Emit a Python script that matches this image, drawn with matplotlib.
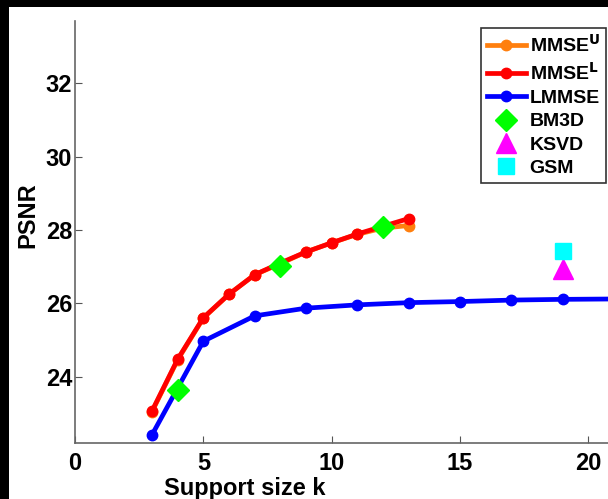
import matplotlib
matplotlib.use("Agg")
import matplotlib.pyplot as plt
from matplotlib.patches import Rectangle

# ---------------------------------------------------------------------------
# Data
# ---------------------------------------------------------------------------
k_mmse = [3, 4, 5, 6, 7, 8, 9, 10, 11, 12, 13]
mmse_u = [23.05, 24.46, 25.6, 26.25, 26.78, 27.08, 27.4, 27.65, 27.88, 28.05, 28.12]
mmse_l = [23.07, 24.48, 25.61, 26.25, 26.78, 27.1, 27.4, 27.65, 27.89, 28.1, 28.31]

k_lmmse = [3, 5, 7, 9, 11, 13, 15, 17, 19, 21, 23]
lmmse = [22.42, 24.97, 25.66, 25.87, 25.96, 26.02, 26.05, 26.09, 26.11, 26.12, 26.13]

k_bm3d = [4, 8, 12]
bm3d = [23.65, 27.03, 28.08]

k_ksvd = [19]
ksvd = [26.95]

k_gsm = [19]
gsm = [27.42]

xticks = [0, 5, 10, 15, 20]
yticks = [24, 26, 28, 30, 32]

plt.rcParams["font.family"] = ["Liberation Sans", "DejaVu Sans"]
plt.rcParams["font.weight"] = "bold"

fig = plt.figure(figsize=(6.08, 4.99), dpi=100, facecolor="black")
fig.patches.append(Rectangle((9 / 608, 0), 1, 1 - 7 / 499, transform=fig.transFigure,
                             facecolor="white", edgecolor="none", zorder=-10))

# axes runs past the right edge of the picture, as in the reference
ax = fig.add_axes([75 / 608, 55.7 / 499, 539 / 608, 422.3 / 499])
ax.set_facecolor("white")

lw = 3.4
ms = 7.5
ax.plot(k_mmse, mmse_u, "-o", color="#ff7f0e", lw=lw, ms=ms, label="MMSE$^\\mathbf{U}$")
ax.plot(k_mmse, mmse_l, "-o", color="red", lw=lw, ms=ms, label="MMSE$^\\mathbf{L}$")
ax.plot(k_lmmse, lmmse, "-o", color="blue", lw=lw, ms=ms, label="LMMSE")
ax.plot(k_bm3d, bm3d, "D", color="#00ff00", ms=11.5, ls="none", label="BM3D")
ax.plot(k_ksvd, ksvd, "^", color="magenta", ms=14, ls="none", label="KSVD")
ax.plot(k_gsm, gsm, "s", color="cyan", ms=11, ls="none", label="GSM")

ax.set_xlim(0, 21)
ax.set_ylim(22.19, 33.69)
ax.set_xticks(xticks)
ax.set_yticks(yticks)
ax.tick_params(direction="in", length=5, color="#555555", labelsize=17)
ax.tick_params(axis="x", pad=6.5)
ax.tick_params(axis="y", pad=2)
for lab in ax.get_xticklabels() + ax.get_yticklabels():
    lab.set_fontweight("bold")
for side in ["top", "right"]:
    ax.spines[side].set_visible(False)
for side in ["left", "bottom"]:
    ax.spines[side].set_color("#666666")
    ax.spines[side].set_linewidth(1.2)

fig.text(245 / 608, 1 - 489 / 499, "Support size k", ha="center", va="center",
         fontsize=17, fontweight="bold")
fig.text(28 / 608, 1 - 215 / 499, "PSNR", ha="center", va="center", rotation=90,
         fontsize=17, fontweight="bold")

leg = fig.legend(loc="upper right", bbox_to_anchor=(606 / 608, 1 - 28 / 499),
                 bbox_transform=fig.transFigure, fontsize=14, frameon=True,
                 fancybox=False, edgecolor="black", handlelength=2.0,
                 handletextpad=0.2, labelspacing=0.3, borderpad=0.3,
                 borderaxespad=0, markerscale=1.0)
leg.get_frame().set_linewidth(1.2)
for t in leg.get_texts():
    t.set_fontweight("bold")

fig.savefig("out.png", dpi=100, facecolor=fig.get_facecolor())
